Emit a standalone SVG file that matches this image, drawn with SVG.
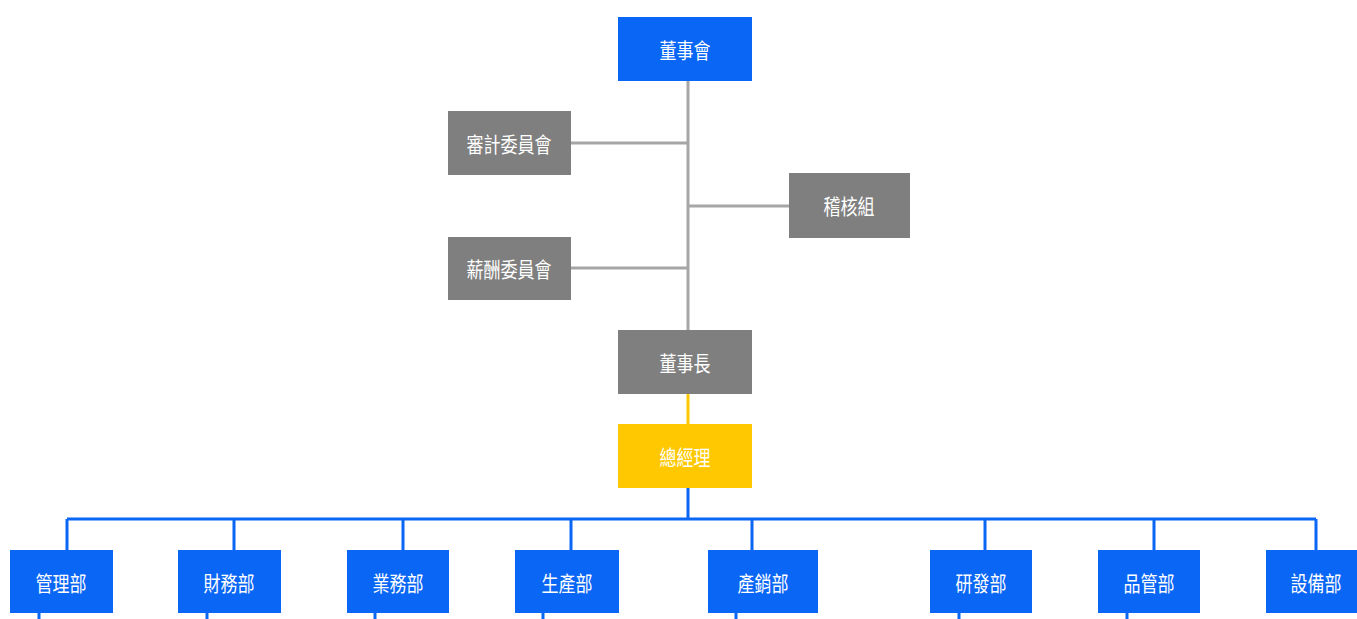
<svg xmlns="http://www.w3.org/2000/svg" width="1357" height="619" viewBox="0 0 1357 619">
<style>
.blue{fill:#0A66F5}
.gray{fill:#7F7F7F}
.yel{fill:#FFC800}
.t{fill:#fff;font-family:"Noto Sans CJK TC","Noto Sans CJK SC",sans-serif;font-size:21px;text-anchor:middle;dominant-baseline:central}
.gl{stroke:#A6A6A6;stroke-width:3;fill:none}
.bl{stroke:#0A66F5;stroke-width:3;fill:none}
.yl{stroke:#FFC800;stroke-width:3;fill:none}
</style>
<rect width="1357" height="619" fill="#fff"/>
<g id="connectors">
<path class="gl" d="M688 81V330M571 143H688M571 268H688M688 206H789"/>
<path class="yl" d="M688 394V424"/>
<path class="bl" d="M688 488V519M67 519H1316M67 519V550M234 519V550M403 519V550M571 519V550M752 519V550M985 519V550M1154 519V550M1316 519V550"/>
<path class="bl" d="M39 613V619M207 613V619M375 613V619M543 613V619M736 613V619M959 613V619M1127 613V619"/>
</g>
<g id="n_board"><rect class="blue" x="618" y="17" width="134" height="64"/><text class="t" x="685" y="49" textLength="51" lengthAdjust="spacingAndGlyphs">董事會</text></g>
<g id="n_audit"><rect class="gray" x="448" y="111" width="123" height="64"/><text class="t" x="509" y="143" textLength="85" lengthAdjust="spacingAndGlyphs">審計委員會</text></g>
<g id="n_internal"><rect class="gray" x="789" y="173" width="121" height="65"/><text class="t" x="849" y="205" textLength="51" lengthAdjust="spacingAndGlyphs">稽核組</text></g>
<g id="n_comp"><rect class="gray" x="448" y="237" width="123" height="63"/><text class="t" x="509" y="268" textLength="85" lengthAdjust="spacingAndGlyphs">薪酬委員會</text></g>
<g id="n_chair"><rect class="gray" x="618" y="330" width="134" height="64"/><text class="t" x="685" y="362" textLength="51" lengthAdjust="spacingAndGlyphs">董事長</text></g>
<g id="n_gm"><rect class="yel" x="618" y="424" width="134" height="64"/><text class="t" x="685" y="456" textLength="51" lengthAdjust="spacingAndGlyphs">總經理</text></g>
<g id="n_admin"><rect class="blue" x="10" y="550" width="103" height="63"/><text class="t" x="61" y="582" textLength="51" lengthAdjust="spacingAndGlyphs">管理部</text></g>
<g id="n_fin"><rect class="blue" x="178" y="550" width="103" height="63"/><text class="t" x="229" y="582" textLength="51" lengthAdjust="spacingAndGlyphs">財務部</text></g>
<g id="n_sales"><rect class="blue" x="347" y="550" width="102" height="63"/><text class="t" x="398" y="582" textLength="51" lengthAdjust="spacingAndGlyphs">業務部</text></g>
<g id="n_prod"><rect class="blue" x="515" y="550" width="104" height="63"/><text class="t" x="567" y="582" textLength="51" lengthAdjust="spacingAndGlyphs">生產部</text></g>
<g id="n_ps"><rect class="blue" x="708" y="550" width="110" height="63"/><text class="t" x="763" y="582" textLength="51" lengthAdjust="spacingAndGlyphs">產銷部</text></g>
<g id="n_rd"><rect class="blue" x="930" y="550" width="102" height="63"/><text class="t" x="981" y="582" textLength="51" lengthAdjust="spacingAndGlyphs">研發部</text></g>
<g id="n_qc"><rect class="blue" x="1098" y="550" width="102" height="63"/><text class="t" x="1149" y="582" textLength="51" lengthAdjust="spacingAndGlyphs">品管部</text></g>
<g id="n_equip"><rect class="blue" x="1266" y="550" width="103" height="63"/><text class="t" x="1316" y="582" textLength="51" lengthAdjust="spacingAndGlyphs">設備部</text></g>
</svg>
